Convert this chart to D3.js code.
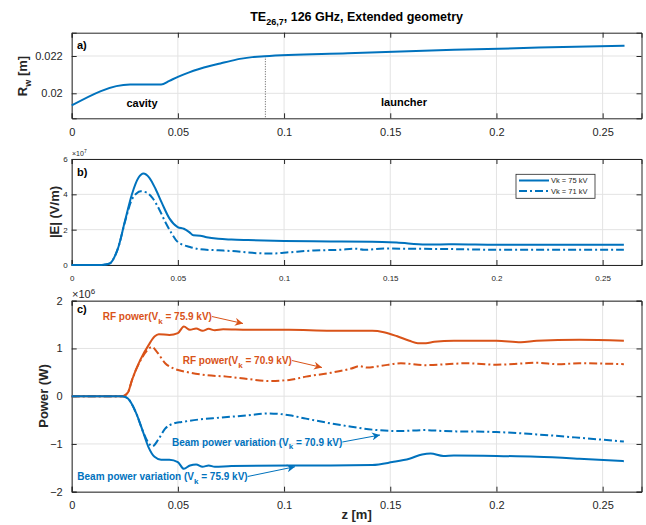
<!DOCTYPE html>
<html><head><meta charset="utf-8">
<script src="https://cdn.jsdelivr.net/npm/d3@7"></script>
<style>body{margin:0;background:#fff}svg{font-family:"Liberation Sans",Arial,Helvetica,sans-serif}</style>
</head><body><svg id="c" width="646" height="525"></svg>
<script>
// ---------- DATA ----------
const xTicks = [0, 0.05, 0.1, 0.15, 0.2, 0.25];
const rwTicks = [0.02, 0.022];
const eTicks = [0, 2e7, 4e7, 6e7];
const pTicks = [-2e6, -1e6, 0, 1e6, 2e6];

const rwZ = [0, 0.0275, 0.0421, 0.046, 0.05, 0.055, 0.06, 0.065, 0.07, 0.075, 0.08, 0.085, 0.0908, 0.13, 0.18, 0.22, 0.2603];
const rwV = [0.01935, 0.02047, 0.02047, 0.02067, 0.02088, 0.02111, 0.0213, 0.02146, 0.0216, 0.02174, 0.02186, 0.02194, 0.02199, 0.02215, 0.02233, 0.02245, 0.02255];
const dividerZ = 0.0912;

const e75Z = [0, 0.012, 0.016, 0.018, 0.0207, 0.022, 0.0251, 0.0283, 0.0315, 0.03375, 0.0365, 0.0395, 0.0425, 0.046, 0.0499, 0.0528, 0.0555, 0.0573, 0.0605, 0.0635, 0.069, 0.0752, 0.083, 0.1, 0.122, 0.1415, 0.153, 0.1668, 0.18, 0.2, 0.219, 0.26];
const e75V = [0, 0, 0.03, 0.09, 0.6, 1.02, 2.5, 3.98, 4.95, 5.18, 4.95, 4.3, 3.5, 2.64, 2.15, 2.05, 1.85, 1.68, 1.66, 1.57, 1.48, 1.44, 1.41, 1.36, 1.33, 1.32, 1.27, 1.16, 1.17, 1.14, 1.14, 1.14].map(v => v * 1e7);
const e71Z = [0, 0.012, 0.016, 0.018, 0.0207, 0.022, 0.0251, 0.0283, 0.0305, 0.0325, 0.0353, 0.038, 0.041, 0.044, 0.047, 0.05, 0.0557, 0.0605, 0.069, 0.0752, 0.087, 0.0947, 0.1025, 0.114, 0.126, 0.134, 0.1376, 0.147, 0.161, 0.18, 0.2, 0.219, 0.26];
const e71V = [0, 0, 0.03, 0.09, 0.6, 1.02, 2.45, 3.7, 4.05, 4.17, 4.1, 3.8, 3.2, 2.45, 1.8, 1.3, 1.02, 0.89, 0.83, 0.79, 0.67, 0.65, 0.72, 0.82, 0.86, 0.92, 0.86, 0.93, 0.92, 0.9, 0.86, 0.86, 0.86].map(v => v * 1e7);

const rf75Z = [0, 0.024, 0.0265, 0.0284, 0.0323, 0.0362, 0.039, 0.041, 0.046, 0.05, 0.0528, 0.0557, 0.0586, 0.0616, 0.0645, 0.0674, 0.0713, 0.083, 0.1023, 0.122, 0.1415, 0.147, 0.153, 0.159, 0.163, 0.1668, 0.1707, 0.18, 0.19, 0.2, 0.2115, 0.219, 0.239, 0.26];
const rf75V = [0, 0, 0.08, 0.34, 0.76, 1.07, 1.25, 1.3, 1.28, 1.32, 1.46, 1.39, 1.42, 1.37, 1.41, 1.38, 1.4, 1.39, 1.39, 1.37, 1.37, 1.34, 1.26, 1.16, 1.11, 1.11, 1.14, 1.16, 1.16, 1.16, 1.13, 1.16, 1.18, 1.16].map(v => v * 1e6);
const rf71Z = [0, 0.024, 0.0265, 0.0284, 0.0323, 0.0355, 0.0378, 0.0401, 0.044, 0.048, 0.0538, 0.0635, 0.073, 0.083, 0.0927, 0.1025, 0.1103, 0.122, 0.1317, 0.1356, 0.139, 0.145, 0.155, 0.1668, 0.1765, 0.186, 0.2, 0.2135, 0.2193, 0.229, 0.239, 0.26];
const rf71V = [0, 0, 0.08, 0.34, 0.74, 0.96, 1.03, 0.93, 0.69, 0.58, 0.51, 0.44, 0.41, 0.36, 0.32, 0.34, 0.41, 0.49, 0.58, 0.63, 0.6, 0.63, 0.69, 0.65, 0.67, 0.69, 0.66, 0.69, 0.7, 0.67, 0.69, 0.67].map(v => v * 1e6);

const b75Z = [0, 0.024, 0.0265, 0.0304, 0.0333, 0.0362, 0.039, 0.0421, 0.046, 0.05, 0.0528, 0.0557, 0.0586, 0.0616, 0.0645, 0.0674, 0.0752, 0.1025, 0.122, 0.1415, 0.151, 0.159, 0.165, 0.169, 0.175, 0.18, 0.2, 0.219, 0.239, 0.26];
const b75V = [0, 0, -0.05, -0.36, -0.71, -1.07, -1.27, -1.33, -1.33, -1.38, -1.52, -1.45, -1.43, -1.48, -1.45, -1.48, -1.46, -1.45, -1.45, -1.44, -1.38, -1.31, -1.22, -1.2, -1.25, -1.24, -1.25, -1.27, -1.31, -1.36].map(v => v * 1e6);
const b71Z = [0, 0.024, 0.0265, 0.0304, 0.0333, 0.0362, 0.038, 0.041, 0.044, 0.048, 0.0518, 0.0596, 0.0694, 0.083, 0.0927, 0.1025, 0.1103, 0.122, 0.1317, 0.1415, 0.153, 0.1668, 0.175, 0.2, 0.219, 0.239, 0.26];
const b71V = [0, 0, -0.05, -0.36, -0.71, -0.98, -1.05, -0.89, -0.68, -0.57, -0.54, -0.49, -0.45, -0.4, -0.36, -0.4, -0.47, -0.57, -0.64, -0.7, -0.73, -0.71, -0.73, -0.75, -0.8, -0.87, -0.95].map(v => v * 1e6);

const legendLabels = ["Vk = 75 kV", "Vk = 71 kV"];

// ---------- DRAW ----------
const svg = d3.select("#c");
const BLUE = "#0072BD", ORANGE = "#D95319", AX = "#262626", GRID = "#e3e3e3";
const DASHDOT = "8,3,2,3";
const x = d3.scaleLinear().domain([0, 0.2683]).range([71.7, 641.5]);

function panel(top, bottom, ydom, yticks, tickFs, yFmt, yPad) {
  const y = d3.scaleLinear().domain(ydom).range([bottom, top]);
  const g = svg.append("g");
  g.append("g").selectAll("line").data(xTicks).join("line")
    .attr("x1", d => x(d)).attr("x2", d => x(d)).attr("y1", top).attr("y2", bottom)
    .attr("stroke", GRID).attr("stroke-width", 1);
  g.append("g").selectAll("line").data(yticks).join("line")
    .attr("y1", d => y(d)).attr("y2", d => y(d)).attr("x1", x.range()[0]).attr("x2", x.range()[1])
    .attr("stroke", GRID).attr("stroke-width", 1);
  const ax = d3.axisBottom(x).tickValues(xTicks).tickSize(-5).tickPadding(10).tickFormat(d3.format("~g"));
  const gx = g.append("g").attr("transform", `translate(0,${bottom})`).call(ax);
  const gxt = g.append("g").attr("transform", `translate(0,${top})`).call(d3.axisTop(x).tickValues(xTicks).tickSize(-5).tickFormat(""));
  const ay = d3.axisLeft(y).tickValues(yticks).tickSize(-5).tickPadding(yPad).tickFormat(yFmt);
  const gy = g.append("g").attr("transform", `translate(${x.range()[0]},0)`).call(ay);
  const gyr = g.append("g").attr("transform", `translate(${x.range()[1]},0)`).call(d3.axisRight(y).tickValues(yticks).tickSize(-5).tickFormat(""));
  [gx, gxt, gy, gyr].forEach(a => {
    a.select(".domain").attr("stroke", AX).attr("stroke-width", 1);
    a.selectAll(".tick line").attr("stroke", AX);
    a.selectAll("text").attr("fill", AX).attr("font-size", tickFs);
  });
  return { y, g };
}

function drawLine(g, y, zs, vs, color, dash, curve) {
  const data = zs.map((z, i) => [z, vs[i]]);
  g.append("path").datum(data)
    .attr("d", d3.line().x(d => x(d[0])).y(d => y(d[1])).curve(curve || d3.curveMonotoneX))
    .attr("fill", "none").attr("stroke", color).attr("stroke-width", 2)
    .attr("stroke-dasharray", dash || null).attr("stroke-linejoin", "round");
}

// Title
const title = svg.append("text").attr("x", 356.6).attr("y", 21).attr("text-anchor", "middle")
  .attr("font-size", 12.5).attr("font-weight", "bold").attr("fill", "#000");
title.append("tspan").text("TE");
title.append("tspan").attr("font-size", 9).attr("dy", 4).text("26,7");
title.append("tspan").attr("dy", -4).text(", 126 GHz, Extended geometry");

// Panel a
const A = panel(32.7, 118.3, [0.01866, 0.02325], rwTicks, 11, d3.format("~g"), 9);
A.g.append("line").attr("x1", x(dividerZ)).attr("x2", x(dividerZ)).attr("y1", A.y(0.02199)).attr("y2", 118.3)
  .attr("stroke", "#333").attr("stroke-width", 0.8).attr("stroke-dasharray", "1,1.5");
drawLine(A.g, A.y, rwZ, rwV, BLUE, null, d3.curveMonotoneX);
A.g.append("text").attr("x", 77).attr("y", 49).attr("font-size", 11).attr("font-weight", "bold").text("a)");
A.g.append("text").attr("x", 142).attr("y", 107).attr("text-anchor", "middle").attr("font-size", 11).attr("font-weight", "bold").text("cavity");
A.g.append("text").attr("x", 404).attr("y", 106).attr("text-anchor", "middle").attr("font-size", 11).attr("font-weight", "bold").text("launcher");
const rl = svg.append("text").attr("transform", "translate(27,76) rotate(-90)").attr("text-anchor", "middle")
  .attr("font-size", 13).attr("font-weight", "bold").attr("fill", AX);
rl.append("tspan").text("R");
rl.append("tspan").attr("font-size", 9).attr("dy", 4).text("w");
rl.append("tspan").attr("dy", -4).text(" [m]");

// Panel b
const B = panel(159, 265, [0, 6e7], eTicks, 8, d => d3.format("~g")(d / 1e7), 4);
drawLine(B.g, B.y, e71Z, e71V, BLUE, DASHDOT);
drawLine(B.g, B.y, e75Z, e75V, BLUE, null);
B.g.append("text").attr("x", 77).attr("y", 176).attr("font-size", 11).attr("font-weight", "bold").text("b)");
const ex7 = svg.append("text").attr("x", 72).attr("y", 156).attr("font-size", 7).attr("fill", AX);
ex7.append("tspan").text("×10");
ex7.append("tspan").attr("font-size", 5).attr("dy", -3).text("7");
svg.append("text").attr("transform", "translate(59,212) rotate(-90)").attr("text-anchor", "middle")
  .attr("font-size", 13).attr("font-weight", "bold").attr("fill", AX).text("|E| (V/m)");
// legend
const lg = svg.append("g");
lg.append("rect").attr("x", 516).attr("y", 174.3).attr("width", 79).attr("height", 24)
  .attr("fill", "#fff").attr("stroke", AX).attr("stroke-width", 0.8);
legendLabels.forEach((t, i) => {
  const yy = 180.5 + i * 10.5;
  lg.append("line").attr("x1", 519).attr("x2", 549).attr("y1", yy).attr("y2", yy)
    .attr("stroke", BLUE).attr("stroke-width", 2).attr("stroke-dasharray", i ? DASHDOT : null);
  lg.append("text").attr("x", 551).attr("y", yy + 2.8).attr("font-size", 7.5).attr("fill", AX).text(t);
});

// Panel c
const C = panel(300.7, 491.7, [-2e6, 2e6], pTicks, 11, d => d3.format("~g")(d / 1e6), 9);
drawLine(C.g, C.y, rf71Z, rf71V, ORANGE, DASHDOT);
drawLine(C.g, C.y, b71Z, b71V, BLUE, DASHDOT);
drawLine(C.g, C.y, rf75Z, rf75V, ORANGE, null);
drawLine(C.g, C.y, b75Z, b75V, BLUE, null);
C.g.append("text").attr("x", 77).attr("y", 313).attr("font-size", 11).attr("font-weight", "bold").text("c)");
const ex6 = svg.append("text").attr("x", 72).attr("y", 298).attr("font-size", 11).attr("fill", AX);
ex6.append("tspan").text("×10");
ex6.append("tspan").attr("font-size", 8).attr("dy", -4).text("6");
svg.append("text").attr("transform", "translate(48,396) rotate(-90)").attr("text-anchor", "middle")
  .attr("font-size", 13).attr("font-weight", "bold").attr("fill", AX).text("Power (W)");
svg.append("text").attr("x", 356.6).attr("y", 519).attr("text-anchor", "middle")
  .attr("font-size", 13).attr("font-weight", "bold").attr("fill", AX).text("z [m]");

// arrow marker
const defs = svg.append("defs");
[["aO", ORANGE], ["aB", BLUE]].forEach(([id, col]) => {
  defs.append("marker").attr("id", id).attr("viewBox", "0 0 10 10").attr("refX", 10).attr("refY", 5)
    .attr("markerWidth", 10).attr("markerHeight", 8).attr("markerUnits", "userSpaceOnUse").attr("orient", "auto")
    .append("path").attr("d", "M0,0L10,5L0,10L3,5Z").attr("fill", col);
});
function annot(x0, y0, pre, mid, col, ax1, ay1, mk) {
  const t = svg.append("text").attr("x", x0).attr("y", y0).attr("font-size", 10).attr("font-weight", "bold").attr("fill", col);
  t.append("tspan").text(pre);
  t.append("tspan").attr("font-size", 8).attr("dy", 3.5).text("k");
  t.append("tspan").attr("dy", -3.5).text(mid);
  const w = t.node().getComputedTextLength();
  svg.append("line").attr("x1", x0 + w).attr("y1", y0 - 3.5).attr("x2", ax1).attr("y2", ay1)
    .attr("stroke", col).attr("stroke-width", 1).attr("marker-end", `url(#${mk})`);
}
annot(102.7, 320, "RF power(V", " = 75.9 kV)", ORANGE, 243, 323.5, "aO");
annot(182.7, 364, "RF power(V", " = 70.9 kV)", ORANGE, 322, 367.5, "aO");
annot(172, 445.5, "Beam power variation (V", "  = 70.9 kV)", BLUE, 380, 435, "aB");
annot(77.3, 480, "Beam power variation (V", " = 75.9 kV)", BLUE, 295, 466.7, "aB");
</script></body></html>
